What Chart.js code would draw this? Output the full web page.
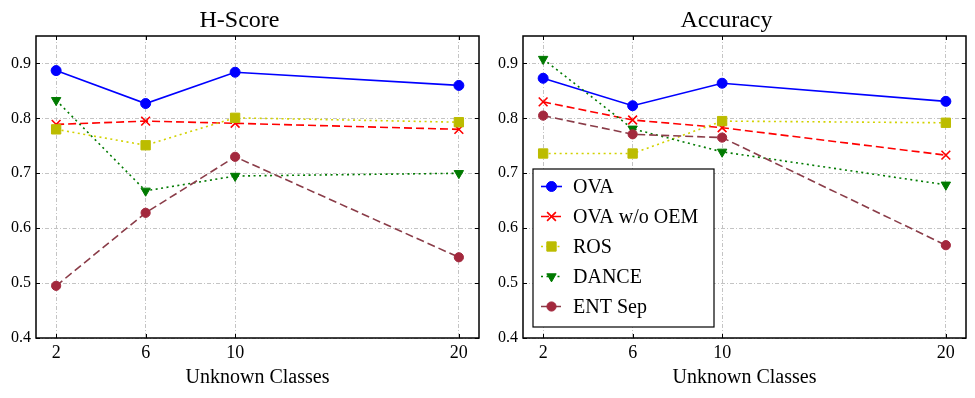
<!DOCTYPE html>
<html>
<head>
<meta charset="utf-8">
<script src="https://cdn.jsdelivr.net/npm/chart.js@4.4.1/dist/chart.umd.min.js"></script>
<style>
  html, body { margin: 0; padding: 0; background: #fff; }
  #wrap { position: relative; width: 975px; height: 398px; }
  .panel { position: absolute; top: 0; height: 398px; }
  #left { left: 0; width: 487px; }
  #right { left: 487px; width: 488px; }
</style>
</head>
<body>
<div id="wrap">
  <div class="panel" id="left"><canvas id="hscore" width="487" height="398"></canvas></div>
  <div class="panel" id="right"><canvas id="accuracy" width="488" height="398"></canvas></div>
</div>
<script>
// unknown classes on the x axis
const unknownClasses = [2, 6, 10, 20];
const xTicks = [2, 6, 10, 20];
const yTicks = [0.4, 0.5, 0.6, 0.7, 0.8, 0.9];
const seriesNames = ['OVA', 'OVA w/o OEM', 'ROS', 'DANCE', 'ENT Sep'];

// H-Score values
const hScoreOva = [0.887, 0.827, 0.884, 0.860];
const hScoreOvaNoOem = [0.789, 0.795, 0.791, 0.780];
const hScoreRos = [0.780, 0.751, 0.801, 0.793];
const hScoreDance = [0.833, 0.668, 0.695, 0.700];
const hScoreEntSep = [0.495, 0.628, 0.730, 0.547];

// Accuracy values
const accOva = [0.873, 0.823, 0.864, 0.831];
const accOvaNoOem = [0.830, 0.797, 0.783, 0.733];
const accRos = [0.736, 0.736, 0.795, 0.792];
const accDance = [0.908, 0.781, 0.739, 0.679];
const accEntSep = [0.805, 0.771, 0.765, 0.569];

const SERIF = '"Liberation Serif", "Times New Roman", serif';
const GRID_COLOR = '#c4c4c4';

// line / marker look per series, same order as seriesNames
const seriesStyles = [
    {line: '#0000ff', point: '#0000ff', dash: [], style: 'circle', radius: 5, rotation: 0},
    {line: '#ff0000', point: '#ff0000', dash: [8, 4], style: 'crossRot', radius: 6.2, rotation: 0},
    {line: '#d2d200', point: '#bcbc00', dash: [2, 3.5], style: 'rect', radius: 6.6, rotation: 0},
    {line: '#007a00', point: '#007a00', dash: [2, 3.5], style: 'triangle', radius: 5.4, rotation: 180},
    {line: '#8a3c48', point: '#a3283d', dash: [8, 4], style: 'circle', radius: 4.6, rotation: 0}
];

function buildDatasets(seriesValues) {
    return seriesValues.map((values, i) => {
        const s = seriesStyles[i];
        return {
            label: seriesNames[i],
            data: values.map((v, k) => ({x: unknownClasses[k], y: v})),
            borderColor: s.line,
            backgroundColor: s.point,
            borderWidth: 1.6,
            borderDash: s.dash,
            pointStyle: s.style,
            pointRadius: s.radius,
            pointRotation: s.rotation,
            pointBackgroundColor: s.point,
            pointBorderColor: s.point,
            pointBorderWidth: s.style === 'crossRot' ? 1.6 : 1,
            tension: 0,
            order: seriesNames.length - i
        };
    });
}

function buildScales() {
    return {
        x: {
            type: 'linear',
            min: 1.1,
            max: 20.9,
            afterBuildTicks: (scale) => { scale.ticks = xTicks.map(v => ({value: v})); },
            afterFit: (scale) => { scale.height = 60; },
            grid: {color: GRID_COLOR, lineWidth: 1, drawTicks: false},
            border: {display: false, dash: [4, 2, 1, 2]},
            ticks: {
                color: '#000',
                font: {family: SERIF, size: 18},
                padding: 4,
                maxRotation: 0,
                callback: (v) => String(v)
            },
            title: {
                display: true,
                text: 'Unknown Classes',
                color: '#000',
                font: {family: SERIF, size: 20},
                padding: {top: 0, bottom: 8}
            }
        },
        y: {
            type: 'linear',
            min: 0.4,
            max: 0.95,
            afterBuildTicks: (scale) => { scale.ticks = yTicks.map(v => ({value: v})); },
            afterFit: (scale) => { scale.width = 36; },
            grid: {color: GRID_COLOR, lineWidth: 1, drawTicks: false},
            border: {display: false, dash: [4, 2, 1, 2]},
            ticks: {
                color: '#000',
                font: {family: SERIF, size: 16},
                padding: 5,
                callback: (v) => v.toFixed(1)
            }
        }
    };
}

// black box round the plot area with inward tick marks like matplotlib
const framePlugin = {
    id: 'frame',
    afterDatasetsDraw(chart) {
        const {ctx, chartArea: a, scales} = chart;
        ctx.save();
        ctx.strokeStyle = '#000';
        ctx.lineWidth = 1;
        xTicks.forEach(v => {
            const px = Math.round(scales.x.getPixelForValue(v)) + 0.5;
            ctx.beginPath();
            ctx.moveTo(px, a.bottom); ctx.lineTo(px, a.bottom - 4);
            ctx.moveTo(px, a.top); ctx.lineTo(px, a.top + 4);
            ctx.stroke();
        });
        yTicks.forEach(v => {
            const py = Math.round(scales.y.getPixelForValue(v)) + 0.5;
            ctx.beginPath();
            ctx.moveTo(a.left, py); ctx.lineTo(a.left + 4, py);
            ctx.moveTo(a.right, py); ctx.lineTo(a.right - 4, py);
            ctx.stroke();
        });
        ctx.lineWidth = 1.5;
        ctx.strokeRect(a.left, a.top, a.right - a.left, a.bottom - a.top);
        ctx.restore();
    }
};

function drawMarker(ctx, ds, x, y) {
    ctx.fillStyle = ds.pointBackgroundColor;
    ctx.strokeStyle = ds.pointBorderColor;
    ctx.lineWidth = ds.pointBorderWidth;
    ctx.setLineDash([]);
    Chart.helpers.drawPoint(ctx, {
        pointStyle: ds.pointStyle,
        rotation: ds.pointRotation,
        radius: ds.pointRadius,
        borderWidth: ds.pointBorderWidth
    }, x, y);
}

// legend box inside the plot, lower left corner
const boxLegendPlugin = {
    id: 'boxLegend',
    afterDraw(chart) {
        const {ctx, chartArea: a} = chart;
        const w = 181, h = 158, rowGap = 30;
        const left = a.left + 10;
        const top = a.bottom - 11 - h;
        ctx.save();
        ctx.fillStyle = '#fff';
        ctx.fillRect(left, top, w, h);
        ctx.strokeStyle = '#000';
        ctx.lineWidth = 1.2;
        ctx.strokeRect(left, top, w, h);

        chart.data.datasets.forEach((ds, i) => {
            const cy = top + 17.5 + i * rowGap;
            ctx.strokeStyle = ds.borderColor;
            ctx.lineWidth = ds.borderWidth;
            ctx.setLineDash(ds.borderDash);
            ctx.beginPath();
            ctx.moveTo(left + 8, cy);
            ctx.lineTo(left + 29, cy);
            ctx.stroke();
            drawMarker(ctx, ds, left + 18.5, cy);

            ctx.fillStyle = '#000';
            ctx.font = '20px ' + SERIF;
            ctx.textBaseline = 'middle';
            ctx.textAlign = 'left';
            ctx.fillText(ds.label, left + 40, cy + 1);
        });
        ctx.restore();
    }
};

function makeChart(canvasId, titleText, seriesValues, rightPad, extraPlugins) {
    return new Chart(document.getElementById(canvasId), {
        type: 'line',
        data: {datasets: buildDatasets(seriesValues)},
        options: {
            responsive: false,
            animation: false,
            layout: {padding: {left: 0, right: rightPad, top: 0, bottom: 0}},
            scales: buildScales(),
            plugins: {
                legend: {display: false},
                tooltip: {enabled: false},
                title: {
                    display: true,
                    text: titleText,
                    color: '#000',
                    font: {family: SERIF, size: 24, weight: 'normal'},
                    padding: {top: 6, bottom: 1.2}
                }
            }
        },
        plugins: [framePlugin].concat(extraPlugins)
    });
}

makeChart('hscore', 'H-Score',
    [hScoreOva, hScoreOvaNoOem, hScoreRos, hScoreDance, hScoreEntSep], 8, []);
makeChart('accuracy', 'Accuracy',
    [accOva, accOvaNoOem, accRos, accDance, accEntSep], 9, [boxLegendPlugin]);
</script>
</body>
</html>
